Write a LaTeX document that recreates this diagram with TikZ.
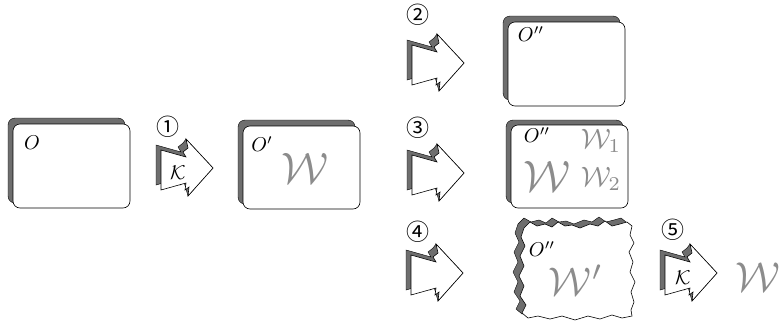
\documentclass[tikz,border=0pt]{standalone}
\usepackage{fontspec}
\newfontfamily\cjk{Noto Sans CJK JP}
\definecolor{shadowg}{RGB}{110,110,110}
\definecolor{wgray}{RGB}{140,140,140}
\tikzset{
  shadowbox/.style={fill=shadowg,draw=black,line width=0.4pt,rounded corners=7pt},
  frontbox/.style={fill=white,draw=black,line width=0.6pt,rounded corners=7pt},
  numlabel/.style={font=\cjk\fontsize{23}{23}\selectfont,inner sep=0pt},
  olabel/.style={font=\fontsize{10}{10}\selectfont,scale=2.0,transform shape,inner sep=0pt},
  wbig/.style={font=\fontsize{10}{10}\selectfont,scale=4.4,transform shape,text=wgray,inner sep=0pt},
  wsmall/.style={font=\fontsize{10}{10}\selectfont,scale=2.8,transform shape,text=wgray,inner sep=0pt},
  klabel/.style={font=\fontsize{10}{10}\selectfont,scale=2.0,transform shape,inner sep=0pt},
  jarrow/.pic={
    \filldraw[fill=shadowg,draw=black,line width=0.4pt]
      (-5,-23) -- (20,-16) -- (17,-21) -- (22,-25) -- (25,-29) -- (52,0) -- (27,28)
      -- (23,14) -- (19,17) -- (20,10) -- (-5,17) -- cycle;
    \filldraw[fill=white,draw=black,line width=0.6pt]
      (0,-18) -- (25,-11) -- (22,-16) -- (27,-20) -- (25,-29) -- (52,0) -- (27,28)
      -- (28,19) -- (24,22) -- (25,15) -- (0,22) -- cycle;
  }
}
\begin{document}
\begin{tikzpicture}[x=1pt,y=-1pt,line join=miter]
\useasboundingbox (0,0) rectangle (782,322);

% Box O
\path[shadowbox] (8,118) rectangle (125,203);
\path[frontbox] (13,124) rectangle (130,208);
\node[olabel] (o1) at (32,143) {$O$};

% Arrow 1
\pic at (161,168) {jarrow};
\node[numlabel] (n1) at (168,127) {①};
\node[klabel] (k1) at (178,173) {$\mathcal{K}$};

% Box O'
\path[shadowbox] (238,120) rectangle (355,204);
\path[frontbox] (243,126) rectangle (360,209);
\node[olabel] (o2) at (262,144) {$O'$};
\node[wbig] (w2) at (305,168) {$\mathcal{W}$};

% Arrow 2 and box
\pic at (412,63) {jarrow};
\node[numlabel] (n2) at (418,15) {②};
\path[shadowbox] (503,16) rectangle (620,100);
\path[frontbox] (508,22) rectangle (625,106);
\node[olabel] (o3) at (531,34) {$O''$};

% Arrow 3 and box
\pic at (412,173) {jarrow};
\node[numlabel] (n3) at (418,128) {③};
\path[shadowbox] (506,120) rectangle (623,203);
\path[frontbox] (511,125) rectangle (628,208);
\node[olabel] (o4) at (537,135) {$O''$};
\node[wbig] (w4) at (547,176) {$\mathcal{W}$};
\node[wsmall] (w41) at (601,141) {$\mathcal{W}_1$};
\node[wsmall] (w42) at (601,179) {$\mathcal{W}_2$};

% Arrow 4 and jagged box
\pic at (411,273) {jarrow};
\node[numlabel] (n4) at (418,232) {④};
\begin{scope}[shift={(-6,-4)}]
\filldraw[fill=shadowg,draw=black,line width=0.4pt]
 (524,228) -- (530,222) -- (537,226) -- (545,224) -- (552,227) -- (558,222) -- (565,226) -- (572,225) -- (580,228) -- (590,224) -- (598,226) -- (605,221) -- (612,226) -- (620,224) -- (627,222) -- (632,226)
 -- (630,235) -- (634,243) -- (629,252) -- (633,262) -- (630,272) -- (635,282) -- (631,292) -- (634,302) -- (631,310) -- (632,316)
 -- (622,318) -- (612,315) -- (600,319) -- (588,316) -- (575,320) -- (562,316) -- (550,319) -- (538,316) -- (528,318) -- (522,313)
 -- (526,305) -- (520,296) -- (524,286) -- (519,276) -- (524,266) -- (520,256) -- (525,246) -- (521,237) -- cycle;
\end{scope}
\filldraw[fill=white,draw=black,line width=0.6pt]
 (524,228) -- (530,222) -- (537,226) -- (545,224) -- (552,227) -- (558,222) -- (565,226) -- (572,225) -- (580,228) -- (590,224) -- (598,226) -- (605,221) -- (612,226) -- (620,224) -- (627,222) -- (632,226)
 -- (630,235) -- (634,243) -- (629,252) -- (633,262) -- (630,272) -- (635,282) -- (631,292) -- (634,302) -- (631,310) -- (632,316)
 -- (622,318) -- (612,315) -- (600,319) -- (588,316) -- (575,320) -- (562,316) -- (550,319) -- (538,316) -- (528,318) -- (522,313)
 -- (526,305) -- (520,296) -- (524,286) -- (519,276) -- (524,266) -- (520,256) -- (525,246) -- (521,237) -- cycle;
\node[olabel] (o5) at (542,249) {$O''$};
\node[wbig,scale=0.91] (w5) at (576,280) {$\mathcal{W}'$};

% Arrow 5 and W
\pic at (665,273) {jarrow};
\node[numlabel] (n5) at (673,230) {⑤};
\node[klabel] (k5) at (683,278) {$\mathcal{K}$};
\node[wbig,scale=0.95] (w6) at (758,277) {$\mathcal{W}$};
\end{tikzpicture}
\end{document}
